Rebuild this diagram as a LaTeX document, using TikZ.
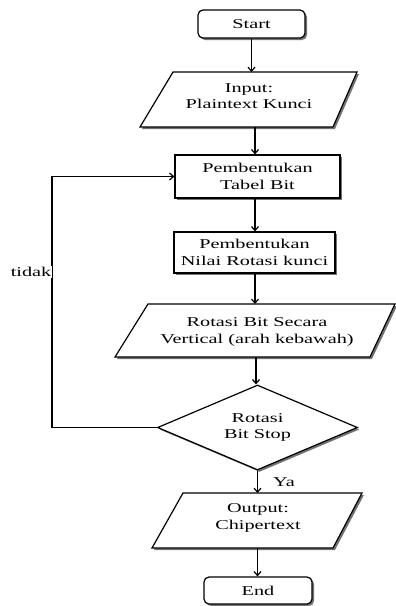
\documentclass[tikz,border=0pt]{standalone}
\usepackage{fontspec}
\setmainfont[FakeStretch=1.5]{Liberation Serif}
\usetikzlibrary{shapes.geometric,shadows,arrows.meta}
\begin{document}
\begin{tikzpicture}[x=1pt,y=-1pt,
  font=\fontsize{13.5}{16.5}\selectfont,
  shad/.style={drop shadow={shadow xshift=2pt,shadow yshift=-2pt,fill=black!55,opacity=1}},
  shp/.style={draw=black,line width=1.2pt,fill=white,shad},
  box/.style={shp,rectangle,inner sep=0pt,align=center},
  term/.style={box,rounded corners=5pt},
  dec/.style={shp,diamond,aspect=2.3,inner sep=0pt,minimum width=200pt,minimum height=85pt,align=center},
  txt/.style={align=center,inner sep=0pt},
  arr/.style={draw=black,line width=1.2pt,-{Straight Barb[length=4pt,width=7pt]}}
]
\useasboundingbox (0,0) rectangle (396,606);

% Start
\node[term,minimum width=107pt,minimum height=28pt] (start) at (251.5,24) {Start};

% Input parallelogram
\draw[shp] (173,72) -- (357,72) -- (333,127) -- (140,127) -- cycle;
\coordinate (intop) at (253,72);
\coordinate (inbot) at (255,127);
\node[txt] (input) at (249,96) {Input:\\Plaintext Kunci};

% Tabel Bit
\node[box,minimum width=165pt,minimum height=43pt] (tabel) at (257.5,176.5) {Pembentukan\\Tabel Bit};

% Nilai rotasi
\node[box,minimum width=161pt,minimum height=41pt] (nilai) at (254.5,252.5) {Pembentukan\\Nilai Rotasi kunci};

% Rotasi parallelogram
\draw[shp] (148,304) -- (395,304) -- (370,357) -- (115,357) -- cycle;
\coordinate (rottop) at (255,304);
\coordinate (rotbot) at (256,357);
\node[txt] (rotasi) at (257,332) {Rotasi Bit Secara\\Vertical (arah kebawah)};

% Decision
\node[dec] (dia) at (257.5,427.5) {Rotasi\\Bit Stop};

% Output parallelogram
\draw[shp] (183,493) -- (362,493) -- (333,548) -- (152,548) -- cycle;
\coordinate (outtop) at (257.5,493);
\coordinate (outbot) at (257.5,548);
\node[txt] (output) at (258,518) {Output:\\Chipertext};

% End
\node[term,minimum width=108pt,minimum height=27pt] (end) at (258,590.5) {End};

% connectors
\draw[arr] (start.south) -- (start.south |- intop);
\draw[arr] (inbot) -- (inbot |- tabel.north);
\draw[arr] (tabel.south -| inbot) -- (inbot |- nilai.north);
\draw[arr] (nilai.south -| rottop) -- (rottop);
\draw[arr] (rotbot) -- (rotbot |- dia.north);
\draw[arr] (dia.south) -- (outtop);
\draw[arr] (outbot) -- (outbot |- end.north);

\coordinate (lpx) at (52,427.5);
\draw[arr] (dia.west) -- (lpx) |- (tabel.west);

\node[inner sep=1pt] (ya) at (284,482) {Ya};
\node[fill=white,inner sep=1pt] (tidak) at (31,272) {tidak};
\end{tikzpicture}
\end{document}
